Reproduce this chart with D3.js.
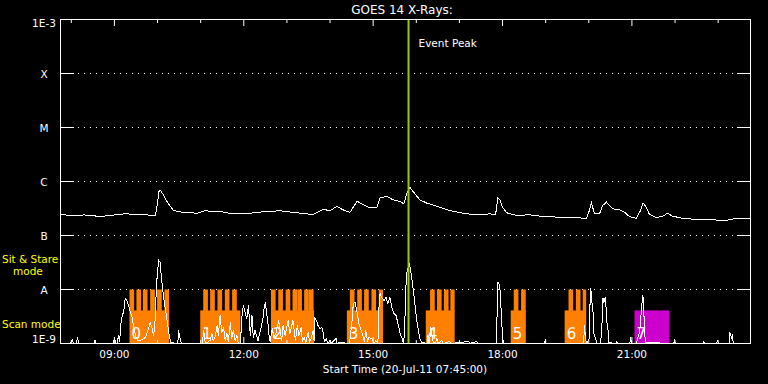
<!DOCTYPE html>
<html>
<head>
<meta charset="utf-8">
<script src="https://d3js.org/d3.v7.min.js"></script>
<style>
body { margin: 0; background: #000; }
svg text { font-family: "DejaVu Sans", sans-serif; }
</style>
</head>
<body>
<script>

/* GOES 14 long channel, hours UT and flux (W/m2) */
var goesHours = [7.75, 7.98, 8.30, 8.68, 9.00, 9.25, 9.60, 9.95, 10.00, 10.03, 10.06, 10.13, 10.23, 10.37,
  10.60, 10.92, 11.11, 11.25, 11.41, 11.75, 12.15, 12.45, 12.84, 13.31, 13.61, 13.84, 14.00, 14.16,
  14.30, 14.46, 14.63, 14.76, 14.93, 15.09, 15.16, 15.23, 15.32, 15.46, 15.62, 15.71, 15.78, 15.85,
  15.92, 16.08, 16.25, 16.48, 16.71, 16.85, 17.17, 17.47, 17.70, 17.84, 17.89, 17.94, 18.00, 18.10,
  18.33, 18.63, 18.93, 19.32, 19.95, 20.02, 20.06, 20.13, 20.25, 20.32, 20.41, 20.55, 20.71, 20.83,
  20.94, 21.10, 21.20, 21.26, 21.33, 21.40, 21.56, 21.75, 21.82, 21.94, 22.17, 22.56, 22.87, 23.19,
  23.42, 23.75];
var goesFlux = [2.45e-7, 2.35e-7, 2.40e-7, 2.25e-7, 2.40e-7, 2.52e-7, 2.45e-7, 2.35e-7, 4.0e-7, 6.5e-7, 7.0e-7, 5.74e-7, 4.14e-7, 2.90e-7,
  2.67e-7, 2.59e-7, 2.90e-7, 2.75e-7, 2.82e-7, 2.52e-7, 2.59e-7, 2.75e-7, 2.87e-7, 2.59e-7, 2.45e-7, 3.03e-7, 2.90e-7, 3.44e-7,
  2.99e-7, 2.67e-7, 4.32e-7, 3.75e-7, 3.26e-7, 3.34e-7, 4.99e-7, 5.12e-7, 5.27e-7, 4.58e-7, 4.27e-7, 3.87e-7, 5.92e-7, 7.84e-7,
  6.61e-7, 4.58e-7, 3.96e-7, 3.49e-7, 2.99e-7, 2.82e-7, 2.52e-7, 2.42e-7, 2.52e-7, 2.45e-7, 4.91e-7, 4.58e-7, 3.34e-7, 2.63e-7,
  2.35e-7, 2.42e-7, 2.25e-7, 2.18e-7, 2.09e-7, 2.99e-7, 4.03e-7, 2.59e-7, 2.52e-7, 3.59e-7, 4.14e-7, 3.12e-7, 2.99e-7, 2.70e-7,
  2.25e-7, 2.09e-7, 2.90e-7, 4.03e-7, 3.34e-7, 2.52e-7, 2.13e-7, 2.32e-7, 2.59e-7, 2.28e-7, 2.09e-7, 1.95e-7, 1.95e-7, 1.90e-7,
  2.09e-7, 2.04e-7];

/* lower white trace, relative intensity */
var lowHours = [7.75, 7.98, 8.02, 8.05, 8.12, 8.14, 8.18, 8.54, 8.55, 8.57, 8.98, 9.00, 9.03, 9.07, 9.09, 9.12,
  9.16, 9.22, 9.25, 9.29, 9.33, 9.37, 9.41, 9.45, 9.49, 9.54, 9.60, 9.68, 9.72, 9.79, 9.83, 9.87, 9.91,
  9.95, 9.97, 10.00, 10.03, 10.06, 10.09, 10.13, 10.16, 10.20, 10.23, 10.27, 10.31, 10.47, 10.49, 10.51,
  10.53, 10.55, 11.04, 11.07, 11.11, 11.22, 11.26, 11.29, 11.34, 11.38, 11.41, 11.45, 11.49, 11.53, 11.57,
  11.61, 11.64, 11.69, 11.72, 11.76, 11.80, 11.84, 11.87, 11.92, 11.96, 11.99, 12.03, 12.07, 12.11, 12.15,
  12.19, 12.22, 12.26, 12.33, 12.40, 12.45, 12.47, 12.50, 12.53, 12.56, 12.59, 12.61, 12.66, 12.70, 12.75,
  12.81, 12.84, 12.88, 12.91, 12.96, 13.03, 13.07, 13.14, 13.17, 13.20, 13.24, 13.28, 13.33, 13.36, 13.40,
  13.44, 13.49, 13.53, 13.56, 13.61, 13.63, 13.65, 13.69, 13.72, 13.77, 13.81, 13.84, 13.87, 13.91, 13.95,
  14.00, 14.02, 14.14, 14.16, 14.23, 14.44, 14.46, 14.51, 14.54, 14.58, 14.63, 14.67, 14.72, 14.76, 14.80,
  14.83, 14.87, 14.90, 14.97, 15.02, 15.06, 15.11, 15.13, 15.16, 15.20, 15.25, 15.30, 15.34, 15.39, 15.44,
  15.48, 15.53, 15.57, 15.62, 15.67, 15.70, 15.73, 15.75, 15.78, 15.81, 15.84, 15.88, 15.91, 15.94, 15.98,
  16.01, 16.05, 16.08, 16.13, 16.25, 16.27, 16.29, 16.31, 16.34, 16.36, 16.38, 16.43, 16.48, 16.50, 16.59,
  16.62, 16.78, 16.80, 17.22, 17.24, 17.40, 17.43, 17.85, 17.87, 17.89, 17.91, 17.94, 17.96, 17.98, 18.00,
  18.03, 18.98, 18.99, 19.01, 19.88, 19.90, 19.93, 19.96, 20.01, 20.03, 20.05, 20.06, 20.09, 20.12, 20.16,
  20.18, 20.27, 20.30, 20.33, 20.35, 20.37, 20.39, 20.41, 20.42, 20.44, 20.46, 20.63, 20.65, 20.67, 20.95,
  20.97, 20.99, 21.11, 21.13, 21.18, 21.22, 21.25, 21.27, 21.29, 21.32, 21.97, 21.99, 22.01, 22.65, 22.66,
  22.69, 22.97, 22.98, 23.01, 23.25, 23.27, 23.31, 23.33, 23.35, 23.75];
var lowCounts = [0, 0, 4, 0, 0, 6, 0, 0, 3, 0, 0, 6, 0, 0, 8, 2,
  24, 33, 45, 43, 38, 31, 26, 16, 8, 3, 3, 5, 6, 15, 21, 16, 8,
  26, 53, 73, 83, 81, 66, 50, 40, 30, 20, 8, 1, 0, 13, 7,
  5, 0, 0, 13, 0, 3, 10, 3, 7, 18, 8, 28, 11, 16, 3,
  10, 2, 21, 5, 13, 3, 8, 1, 0, 28, 38, 31, 25, 38, 8,
  28, 6, 13, 3, 16, 26, 35, 41, 31, 20, 6, 2, 15, 6, 11,
  23, 13, 3, 18, 8, 23, 10, 23, 13, 3, 18, 8, 16, 2, 6,
  1, 11, 2, 5, 13, 3, 25, 23, 18, 15, 16, 11, 2, 5, 0,
  3, 0, 5, 0, 1, 0, 3, 23, 40, 41, 31, 20, 13, 8, 2,
  13, 2, 6, 5, 0, 3, 0, 33, 50, 46, 43, 46, 40, 46, 35,
  30, 28, 21, 11, 5, 0, 10, 50, 71, 76, 80, 70, 61, 50, 35,
  23, 13, 5, 1, 0, 8, 0, 3, 16, 10, 3, 0, 5, 0, 3,
  0, 2, 0, 2, 0, 2, 0, 0, 23, 61, 61, 55, 40, 23, 6,
  0, 0, 4, 0, 0, 18, 3, 0, 5, 41, 55, 41, 40, 10, 5,
  0, 0, 13, 45, 41, 45, 46, 26, 21, 18, 1, 0, 2, 0, 0,
  6, 0, 0, 5, 11, 33, 48, 45, 11, 1, 0, 3, 0, 0, 2,
  0, 0, 3, 0, 0, 11, 6, 8, 0, 0];

/* observing blocks: scan rasters with sit & stare exposures on top */
var blockLabels = ["0", "1", "2", "3", "4", "5", "6", "7"];
var blockStart = [9.35, 10.99, 12.63, 14.39, 16.22, 18.19, 19.44, 21.06];
var blockEnd = [10.27, 11.92, 13.63, 15.23, 16.89, 18.54, 19.94, 21.87];
var blockTeeth = [
  [9.35, 9.51, 9.66, 9.83, 9.99, 10.16],
  [11.06, 11.22, 11.39, 11.56, 11.73],
  [12.63, 12.80, 12.97, 13.13, 13.24, 13.40, 13.51],
  [14.46, 14.63, 14.79, 14.96, 15.13],
  [16.32, 16.48, 16.64, 16.79],
  [18.26, 18.43],
  [19.53, 19.70, 19.86],
  []
];
var toothLength = 0.108;
var scanLevel = 4.1e-9;
var stareLevel = 1e-8;
var eventPeakHour = 15.82;

var levelNames = ["1E-9", "A", "B", "C", "M", "X", "1E-3"];
var levelValues = [1e-9, 1e-8, 1e-7, 1e-6, 1e-5, 1e-4, 1e-3];

var startHour = 7.75, endHour = 23.75;

function hd(h) { return new Date(2011, 6, 20, 0, 0, Math.round(h * 3600)); }

var W = 768, H = 384;
var svg = d3.select("body").append("svg")
  .attr("width", W).attr("height", H)
  .style("background", "#000");

var x = d3.scaleTime().domain([hd(startHour), hd(endHour)]).range([60.5, 750.5]);
var y = d3.scaleLog().domain([1e-9, 1e-3]).range([343.5, 19.5]);
var yLow = d3.scaleLinear().domain([0, 100]).range([343.5, 243.5]);

/* dotted level lines */
svg.append("g").selectAll("line").data(levelValues.slice(1, 6)).enter()
  .append("line")
  .attr("x1", 74).attr("x2", 737)
  .attr("y1", function(d) { return y(d); }).attr("y2", function(d) { return y(d); })
  .attr("stroke", "#fff").attr("stroke-width", 1)
  .attr("stroke-dasharray", "1,5").attr("stroke-dashoffset", -4);

/* observing blocks */
var blocks = blockLabels.map(function(l, i) {
  return { label: l, start: blockStart[i], end: blockEnd[i], teeth: blockTeeth[i], sitStare: blockTeeth[i].length > 0 };
});
var bg = svg.append("g");
blocks.forEach(function(b) {
  var col = b.sitStare ? "#ff8000" : "#cc00cc";
  bg.append("rect")
    .attr("x", x(hd(b.start)))
    .attr("width", x(hd(b.end)) - x(hd(b.start)))
    .attr("y", y(scanLevel))
    .attr("height", y(1e-9) - y(scanLevel))
    .attr("fill", col);
  bg.selectAll(null).data(b.teeth).enter().append("rect")
    .attr("x", function(t) { return x(hd(t)); })
    .attr("width", function(t) { return x(hd(Math.min(t + toothLength, b.end))) - x(hd(t)); })
    .attr("y", y(stareLevel))
    .attr("height", y(scanLevel) - y(stareLevel) + 0.5)
    .attr("fill", col);
});

/* lower white trace */
var lowData = lowHours.map(function(h, i) { return { t: hd(h), v: lowCounts[i] }; });
svg.append("path").datum(lowData)
  .attr("fill", "none").attr("stroke", "#fff").attr("stroke-width", 1)
  .attr("shape-rendering", "crispEdges")
  .attr("d", d3.line().x(function(d) { return x(d.t); }).y(function(d) { return yLow(d.v); }));

/* block numbers */
svg.append("g").selectAll("text").data(blocks).enter().append("text")
  .attr("x", function(b) { return x(hd(b.start)) + 2; })
  .attr("y", 339)
  .attr("fill", "#fff").attr("font-size", 15)
  .text(function(b) { return b.label; });

/* GOES curve */
var goesData = goesHours.map(function(h, i) { return { t: hd(h), v: goesFlux[i] }; });
svg.append("path").datum(goesData)
  .attr("fill", "none").attr("stroke", "#fff").attr("stroke-width", 1)
  .attr("shape-rendering", "crispEdges")
  .attr("d", d3.line().x(function(d) { return x(d.t); }).y(function(d) { return y(d.v); }));

/* event peak */
svg.append("line")
  .attr("x1", x(hd(eventPeakHour))).attr("x2", x(hd(eventPeakHour)))
  .attr("y1", y(1e-3)).attr("y2", y(1e-9))
  .attr("stroke", "#99cc00").attr("stroke-width", 2);
svg.append("text")
  .attr("x", x(hd(eventPeakHour)) + 10).attr("y", 47)
  .attr("fill", "#fff").attr("font-size", 10.5)
  .text("Event Peak");

/* frame */
svg.append("rect")
  .attr("x", 60.5).attr("y", 19.5).attr("width", 690).attr("height", 324)
  .attr("fill", "none").attr("stroke", "#fff").attr("stroke-width", 1);

/* y ticks and labels */
var ya = svg.append("g");
ya.selectAll("line.l").data(levelValues).enter().append("line")
  .attr("x1", 60).attr("x2", 74)
  .attr("y1", function(d) { return y(d); }).attr("y2", function(d) { return y(d); })
  .attr("stroke", "#fff");
ya.selectAll("line.r").data(levelValues).enter().append("line")
  .attr("x1", 737).attr("x2", 751)
  .attr("y1", function(d) { return y(d); }).attr("y2", function(d) { return y(d); })
  .attr("stroke", "#fff");
ya.selectAll("text").data(levelValues).enter().append("text")
  .attr("x", 44).attr("text-anchor", "middle")
  .attr("y", function(d, i) {
    if (i === 0) return y(d) - 0.5;
    if (i === levelValues.length - 1) return y(d) + 7.5;
    return y(d) + 4;
  })
  .attr("fill", "#fff").attr("font-size", 10.5)
  .text(function(d, i) { return levelNames[i]; });

/* time ticks */
var hourTicks = x.ticks(d3.timeHour.every(1));
var majorTicks = x.ticks(d3.timeHour.every(3));
var xa = svg.append("g");
xa.selectAll("line.tm").data(hourTicks).enter().append("line")
  .attr("x1", function(d) { return x(d); }).attr("x2", function(d) { return x(d); })
  .attr("y1", 19.5).attr("y2", function(d) { return d.getHours() % 3 === 0 ? 26 : 23; })
  .attr("stroke", "#fff");
xa.selectAll("line.bm").data(hourTicks).enter().append("line")
  .attr("x1", function(d) { return x(d); }).attr("x2", function(d) { return x(d); })
  .attr("y1", 343.5).attr("y2", function(d) { return d.getHours() % 3 === 0 ? 337 : 340; })
  .attr("stroke", "#fff");
xa.selectAll("text").data(majorTicks).enter().append("text")
  .attr("x", function(d) { return x(d); }).attr("y", 358)
  .attr("text-anchor", "middle").attr("fill", "#fff").attr("font-size", 10.5)
  .text(d3.timeFormat("%H:%M"));

/* titles */
svg.append("text").attr("x", 402).attr("y", 13.5).attr("text-anchor", "middle")
  .attr("fill", "#fff").attr("font-size", 12).text("GOES 14 X-Rays:");
svg.append("text").attr("x", 405).attr("y", 373).attr("text-anchor", "middle")
  .attr("fill", "#fff").attr("font-size", 10.5).text("Start Time (20-Jul-11 07:45:00)");

/* mode labels */
svg.append("text").attr("x", 2).attr("y", 263).attr("fill", "#ffff00").attr("font-size", 10.5).text("Sit & Stare");
svg.append("text").attr("x", 13).attr("y", 275).attr("fill", "#ffff00").attr("font-size", 10.5).text("mode");
svg.append("text").attr("x", 2).attr("y", 327.5).attr("fill", "#ffff00").attr("font-size", 10.5).text("Scan mode");

</script>
</body>
</html>
